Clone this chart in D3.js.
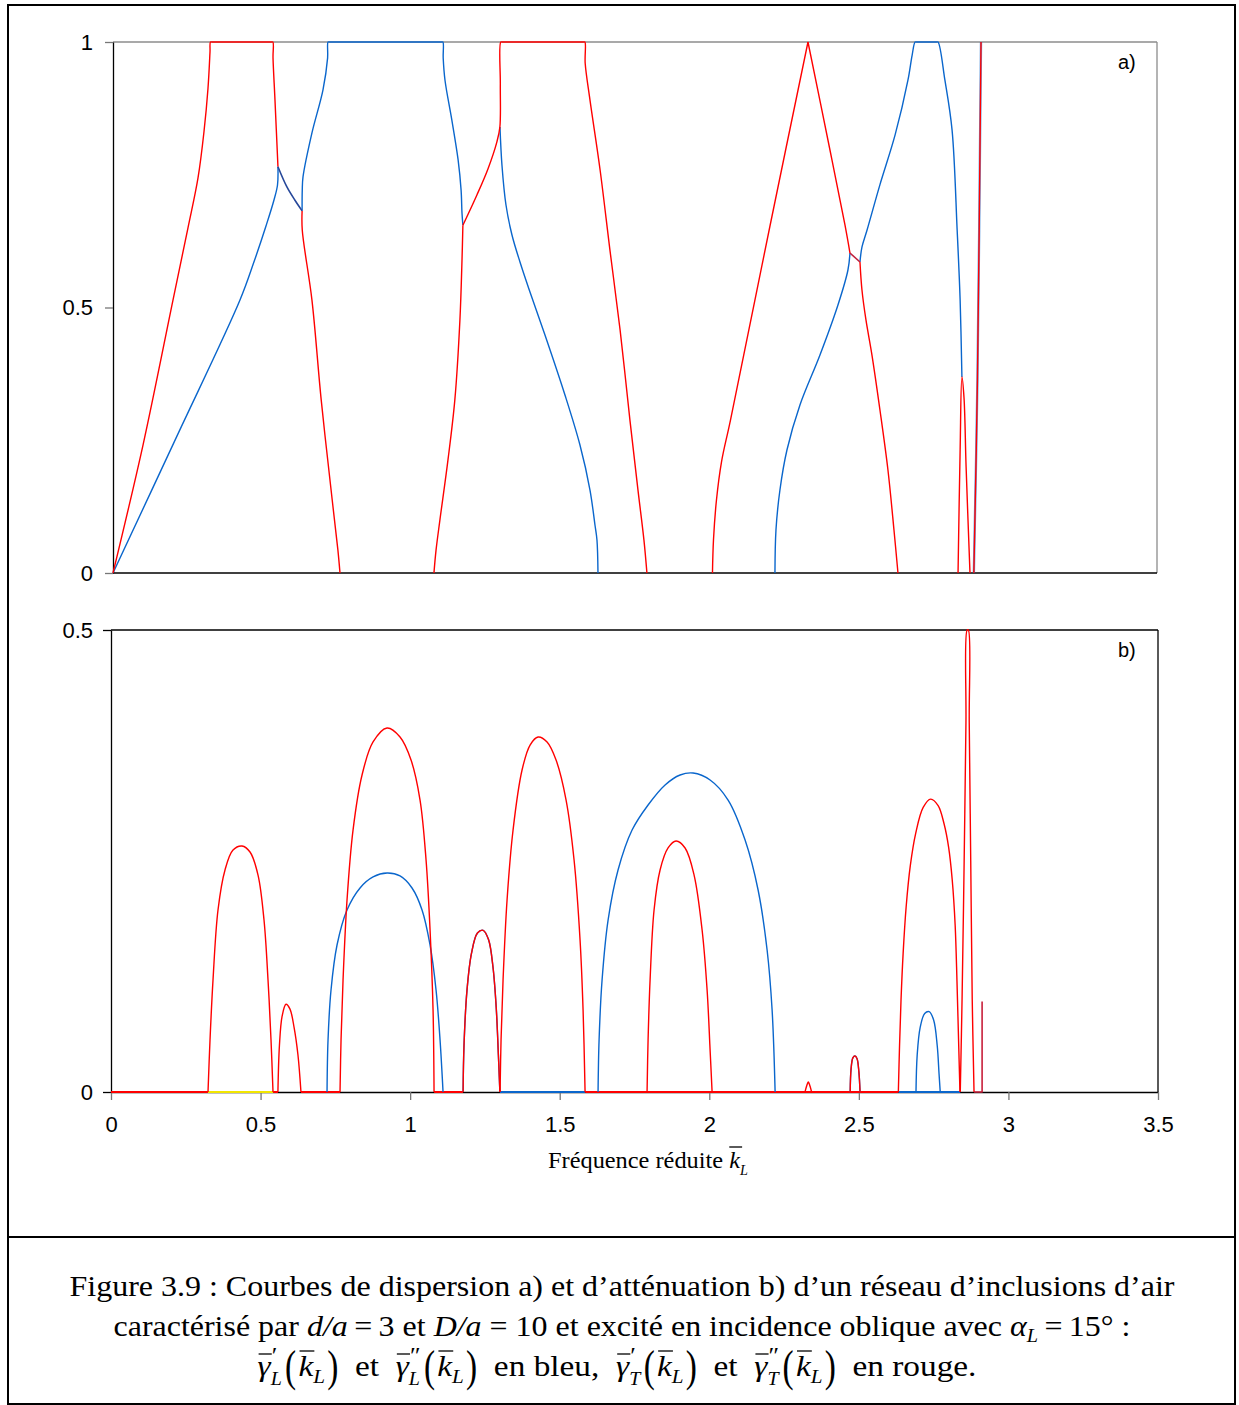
<!DOCTYPE html>
<html><head><meta charset="utf-8">
<script src="https://cdn.jsdelivr.net/npm/d3@7"></script>
<style>body{margin:0;background:#fff;} svg{display:block;}</style>
</head><body>
<script>
// ---------------- DATA ----------------
const xTicks = [0, 0.5, 1, 1.5, 2, 2.5, 3, 3.5];
const xTickLabels = ["0", "0.5", "1", "1.5", "2", "2.5", "3", "3.5"];
const yTicksA = [0, 0.5, 1];
const yTickLabelsA = ["0", "0.5", "1"];
const yTicksB = [0, 0.5];
const yTickLabelsB = ["0", "0.5"];

// a) real parts : T (red) branches
const aT1 = [[0,0],[0.1006,0.241],[0.2011,0.514],[0.2514,0.65],[0.285,0.744],[0.305,0.831],[0.3185,0.913],[0.3252,0.981],[0.3268,1],[0.332,1],[0.531,1],[0.536,1],[0.5365,0.97],[0.543,0.891],[0.553,0.765]];
const aT2 = [[0.634,0.682],[0.6345,0.646],[0.667,0.514],[0.698,0.326],[0.735,0.137],[0.754,0.043],[0.761,0]];
const aT3 = [[1.173,0.655],[1.22,0.712],[1.257,0.761],[1.287,0.812],[1.297,0.84],[1.2985,0.92],[1.3,1],[1.305,1],[1.577,1],[1.582,1],[1.583,0.96],[1.599,0.891],[1.633,0.759],[1.666,0.608],[1.7,0.458],[1.733,0.288],[1.76,0.156],[1.78,0.062],[1.79,0]];
const aT4 = [[1.076,0],[1.083,0.043],[1.096,0.1],[1.123,0.213],[1.146,0.326],[1.163,0.476],[1.17,0.589],[1.173,0.655]];
const aT5 = [[2.0097,0],[2.0131,0.0621],[2.0231,0.1375],[2.0399,0.209],[2.0701,0.2881],[2.2025,0.6535],[2.3299,1]];
const aT6 = [[2.3299,1],[2.4036,0.7966],[2.4539,0.6554],[2.4707,0.6026]];
const aT7 = [[2.5042,0.5857],[2.5109,0.533],[2.5243,0.4765],[2.5444,0.4105],[2.5712,0.307],[2.598,0.194],[2.6182,0.081],[2.6316,0]];
const aT8 = [[2.833,0],[2.84,0.232],[2.846,0.369],[2.853,0.33],[2.86,0.2],[2.873,0]];
const aT9 = [[2.886,0],[2.898,0.363],[2.91,1]];
// a) real parts : L (blue) branches
const aL1 = [[0,0],[0.2112,0.254],[0.4257,0.514],[0.4727,0.586],[0.5129,0.6535],[0.5397,0.7024],[0.5515,0.7307],[0.553,0.765]];
const aL2 = [[0.634,0.682],[0.6345,0.721],[0.637,0.746],[0.667,0.829],[0.704,0.91],[0.7195,0.97],[0.721,1],[0.726,1],[1.101,1],[1.106,1],[1.107,0.97],[1.113,0.928],[1.136,0.853],[1.157,0.778],[1.167,0.721],[1.17,0.678],[1.173,0.655]];
const aL3 = [[1.2973,0.84],[1.304,0.768],[1.3175,0.693],[1.3376,0.6365],[1.3644,0.5857],[1.3979,0.5292],[1.4482,0.4482],[1.5152,0.3352],[1.5655,0.241],[1.5991,0.1563],[1.6158,0.0904],[1.6225,0.0621],[1.6259,0]];
const aL4 = [[2.2192,0],[2.2226,0.081],[2.2359,0.1563],[2.2594,0.2316],[2.303,0.3164],[2.3701,0.4105],[2.4304,0.5047],[2.4639,0.5706],[2.4707,0.6026]];
const aL5 = [[2.5042,0.5857],[2.511,0.614],[2.528,0.646],[2.571,0.731],[2.622,0.825],[2.665,0.928],[2.679,0.975],[2.689,1],[2.694,1],[2.761,1],[2.766,1],[2.789,0.928],[2.813,0.834],[2.83,0.646],[2.84,0.514],[2.846,0.369]];
// a) coupled (mixed) segments
const aM1 = [[0.553,0.765],[0.583,0.727],[0.61,0.702],[0.634,0.682]];
const aM2 = [[2.4707,0.6026],[2.5042,0.5857]];

// b) imaginary parts : T (red)
const bT1 = [[0.3243,0],[0.331,0.0563],[0.341,0.1212],[0.3577,0.197],[0.3811,0.2403],[0.4079,0.2619],[0.438,0.2662],[0.4647,0.2597],[0.4915,0.2348],[0.5115,0.1861],[0.5249,0.1212],[0.5349,0.0563],[0.5416,0]];
const bT2 = [[0.558,0],[0.563,0.05],[0.572,0.082],[0.585,0.095],[0.598,0.09],[0.612,0.07],[0.625,0.04],[0.635,0]];
const bT3 = [[0.7656,0],[0.769,0.0563],[0.7757,0.1212],[0.789,0.2078],[0.8091,0.2835],[0.8392,0.3431],[0.876,0.3788],[0.9228,0.3939],[0.9662,0.3842],[1.003,0.3593],[1.0331,0.316],[1.0532,0.2511],[1.0666,0.1753],[1.0766,0.0887],[1.0799,0]];
const bT4 = [[1.177,0],[1.18,0.05],[1.19,0.11],[1.205,0.15],[1.225,0.172],[1.244,0.175],[1.262,0.165],[1.277,0.135],[1.288,0.09],[1.295,0.04],[1.3,0]];
const bT5 = [[1.3006,0],[1.3039,0.0563],[1.3106,0.1212],[1.324,0.2078],[1.344,0.2835],[1.3741,0.3485],[1.4009,0.3755],[1.4276,0.3842],[1.4577,0.3788],[1.4878,0.3593],[1.5213,0.316],[1.548,0.2511],[1.568,0.1645],[1.5781,0.0887],[1.5848,0]];
const bT6 = [[1.792,0],[1.7954,0.0563],[1.8021,0.1212],[1.8154,0.197],[1.8355,0.2403],[1.8622,0.2641],[1.889,0.2716],[1.9191,0.2641],[1.9492,0.2348],[1.976,0.1753],[1.9927,0.1104],[2.0027,0.0455],[2.0094,0]];
const bT7 = [[2.32,0],[2.327,0.008],[2.331,0.011],[2.335,0.008],[2.342,0]];
const bT8 = [[2.471,0],[2.474,0.025],[2.48,0.037],[2.487,0.039],[2.494,0.036],[2.5,0.022],[2.504,0]];
const bT9 = [[2.632,0],[2.636,0.05],[2.641,0.1],[2.648,0.15],[2.658,0.2],[2.672,0.245],[2.69,0.28],[2.715,0.308],[2.74,0.317],[2.765,0.31],[2.785,0.29],[2.8,0.265],[2.812,0.23],[2.822,0.18],[2.828,0.12],[2.833,0.06],[2.838,0]];
const bT10 = [[2.839,0],[2.845,0.1],[2.852,0.25],[2.858,0.4],[2.862,0.5],[2.866,0.5],[2.869,0.4],[2.874,0.25],[2.879,0.1],[2.885,0]];
const bT11 = [[2.885,0],[2.912,0],[2.912,0.098]];
// b) imaginary parts : L (blue)
const bL1 = [[0.7222,0],[0.7255,0.0563],[0.7355,0.1104],[0.7556,0.1591],[0.789,0.197],[0.8325,0.2208],[0.876,0.2327],[0.9228,0.237],[0.9662,0.2338],[1.0063,0.2208],[1.0398,0.197],[1.0665,0.1591],[1.0866,0.1104],[1.1,0.0563],[1.11,0]];
const bL2 = [[1.177,0],[1.18,0.05],[1.19,0.11],[1.205,0.15],[1.225,0.172],[1.244,0.175],[1.262,0.165],[1.277,0.135],[1.288,0.09],[1.295,0.04],[1.3,0]];
const bL3 = [[1.6282,0],[1.6316,0.0563],[1.6416,0.1212],[1.6617,0.1861],[1.695,0.2403],[1.7419,0.2835],[1.7954,0.3106],[1.8522,0.3323],[1.9024,0.3431],[1.9458,0.3452],[2.0027,0.3377],[2.0629,0.316],[2.1197,0.2727],[2.1632,0.2186],[2.1933,0.1537],[2.21,0.0887],[2.2201,0]];
const bL4 = [[2.471,0],[2.474,0.025],[2.48,0.037],[2.487,0.039],[2.494,0.036],[2.5,0.022],[2.504,0]];
const bL5 = [[2.691,0],[2.695,0.04],[2.705,0.07],[2.72,0.085],[2.735,0.087],[2.75,0.078],[2.762,0.05],[2.768,0.02],[2.772,0]];
// b) zero-valued stretches of each series
const bZeroT = [[0,0.324],[0.542,0.558],[0.635,0.766],[1.08,1.177],[1.585,2.632]];
const bZeroL = [[1.3,1.585],[2.632,2.839]];
const bZeroY = [[0.324,0.542]];

// ---------------- DRAWING ----------------
const W = 1239, H = 1405;
const RED = "#ff0000", BLUE = "#0a66cc", YELLOW = "#f2e600";
const sans = "'Liberation Sans', Arial, sans-serif";
const serif = "'Liberation Serif', 'Times New Roman', serif";

const svg = d3.select("body").append("svg").attr("width", W).attr("height", H);

// outer frame
svg.append("rect").attr("x", 8).attr("y", 5).attr("width", 1227).attr("height", 1399)
  .attr("fill", "none").attr("stroke", "#000").attr("stroke-width", 2);
svg.append("line").attr("x1", 8).attr("x2", 1235).attr("y1", 1237).attr("y2", 1237)
  .attr("stroke", "#000").attr("stroke-width", 2);

// scales
const xA = d3.scaleLinear().domain([0, 3.5]).range([113, 1157]);
const yA = d3.scaleLinear().domain([0, 1]).range([573, 42]);
const xB = d3.scaleLinear().domain([0, 3.5]).range([111, 1158]);
const yB = d3.scaleLinear().domain([0, 0.5]).range([1092, 630]);

const defs = svg.append("defs");
defs.append("clipPath").attr("id", "clipA").append("rect")
  .attr("x", 110).attr("y", 40).attr("width", 1050).attr("height", 535);
defs.append("clipPath").attr("id", "clipB").append("rect")
  .attr("x", 108).attr("y", 629).attr("width", 1052).attr("height", 465);

function styleAxis(g, tickColor) {
  g.select(".domain").attr("stroke", "#000").attr("stroke-width", 1.3);
  g.selectAll(".tick line").attr("stroke", tickColor).attr("stroke-width", 1.3);
  g.selectAll(".tick text").attr("font-family", sans).attr("font-size", 22).attr("fill", "#000");
}

// ----- panel a frame
svg.append("line").attr("x1", xA(0)).attr("x2", xA(3.5)).attr("y1", yA(1)).attr("y2", yA(1))
  .attr("stroke", "#8c8c8c").attr("stroke-width", 1.3);
svg.append("line").attr("x1", xA(3.5)).attr("x2", xA(3.5)).attr("y1", yA(1)).attr("y2", yA(0))
  .attr("stroke", "#8c8c8c").attr("stroke-width", 1.3);
svg.append("line").attr("x1", xA(0)).attr("x2", xA(3.5)).attr("y1", yA(0)).attr("y2", yA(0))
  .attr("stroke", "#000").attr("stroke-width", 1.5);
const axAy = svg.append("g").attr("transform", `translate(${xA(0)},0)`)
  .call(d3.axisLeft(yA).tickValues(yTicksA).tickFormat((d, i) => yTickLabelsA[i])
    .tickSize(8).tickSizeOuter(0).tickPadding(12));
styleAxis(axAy, "#777");

// ----- panel b frame
svg.append("line").attr("x1", xB(0)).attr("x2", xB(3.5)).attr("y1", yB(0.5)).attr("y2", yB(0.5))
  .attr("stroke", "#000").attr("stroke-width", 1.3);
svg.append("line").attr("x1", xB(3.5)).attr("x2", xB(3.5)).attr("y1", yB(0.5)).attr("y2", yB(0))
  .attr("stroke", "#000").attr("stroke-width", 1.3);
const axBy = svg.append("g").attr("transform", `translate(${xB(0)},0)`)
  .call(d3.axisLeft(yB).tickValues(yTicksB).tickFormat((d, i) => yTickLabelsB[i])
    .tickSize(8).tickSizeOuter(0).tickPadding(10));
styleAxis(axBy, "#000");
const axBx = svg.append("g").attr("transform", `translate(0,${yB(0)})`)
  .call(d3.axisBottom(xB).tickValues(xTicks).tickFormat((d, i) => xTickLabels[i])
    .tickSize(8).tickSizeOuter(0).tickPadding(16));
styleAxis(axBx, "#777");

// ----- curves
const smooth = d3.curveCatmullRom.alpha(0.5);
const lineA = d3.line().x(d => xA(d[0])).y(d => yA(d[1])).curve(smooth);
const lineB = d3.line().x(d => xB(d[0])).y(d => yB(d[1])).curve(smooth);

const gA = svg.append("g").attr("clip-path", "url(#clipA)")
  .attr("fill", "none").attr("stroke-width", 1.4).attr("stroke-linejoin", "round");
[aL1, aL2, aL3, aL4, aL5].forEach(s => gA.append("path").attr("d", lineA(s)).attr("stroke", BLUE));
gA.append("path").attr("d", lineA(aT9)).attr("stroke", BLUE).attr("stroke-width", 2.4).attr("opacity", 0.6);
[aT1, aT2, aT3, aT4, aT5, aT6, aT7, aT8, aT9].forEach(s => gA.append("path").attr("d", lineA(s)).attr("stroke", RED));
gA.append("path").attr("d", lineA(aM1)).attr("stroke", "#27489a").attr("stroke-width", 1.6);
gA.append("path").attr("d", lineA(aM2)).attr("stroke", "#c0203c").attr("stroke-width", 1.6);

const gB = svg.append("g").attr("clip-path", "url(#clipB)")
  .attr("fill", "none").attr("stroke-width", 1.4).attr("stroke-linejoin", "round");
bZeroL.forEach(r => gB.append("path").attr("d", lineB(r.map(k => [k, 0]))).attr("stroke", BLUE).attr("stroke-width", 2));
bZeroT.forEach(r => gB.append("path").attr("d", lineB(r.map(k => [k, 0]))).attr("stroke", RED).attr("stroke-width", 2));
bZeroY.forEach(r => gB.append("path").attr("d", lineB(r.map(k => [k, 0]))).attr("stroke", YELLOW).attr("stroke-width", 2));
[bL1, bL2, bL3, bL4, bL5].forEach(s => gB.append("path").attr("d", lineB(s)).attr("stroke", BLUE));
[bT1, bT2, bT3, bT4, bT5, bT6, bT7, bT8, bT9, bT10].forEach(s => gB.append("path").attr("d", lineB(s)).attr("stroke", RED));
gB.append("path").attr("d", d3.line().x(d => xB(d[0])).y(d => yB(d[1]))(bT11)).attr("stroke", "#c8203c").attr("stroke-width", 1.6);

// panel labels
svg.append("text").attr("x", 1118).attr("y", 69).attr("font-family", sans).attr("font-size", 20).text("a)");
svg.append("text").attr("x", 1118).attr("y", 657).attr("font-family", sans).attr("font-size", 20).text("b)");

// ----- math layout helper
function addText(parent, str, x, y, size, italic) {
  return parent.append("text").attr("x", x).attr("y", y)
    .attr("font-family", serif).attr("font-size", size)
    .attr("font-style", italic ? "italic" : "normal")
    .style("white-space", "pre").text(str);
}
function mathLine(parent, pieces, cx, base, baseSize, fitWidth) {
  const g = parent.append("g");
  const inner = g.append("g");
  let x = 0;
  pieces.forEach(p => {
    const size = p.size || baseSize;
    let t;
    if (p.sy) {
      t = addText(inner, p.t, 0, 0, size, p.it)
        .attr("transform", `translate(${x},${base + (p.dy || 0)}) scale(1,${p.sy})`);
    } else {
      t = addText(inner, p.t, x, base + (p.dy || 0), size, p.it);
    }
    const w = t.node().getComputedTextLength();
    let extra = 0;
    if (p.sup) {
      const s = addText(inner, p.sup, x + w + (p.supDx || 0), base + p.supDy, p.supSize, false);
      extra = Math.max(extra, s.node().getComputedTextLength() + (p.supDx || 0));
    }
    if (p.sub) {
      const s = addText(inner, p.sub, x + w, base + p.subDy, p.subSize, true);
      extra = Math.max(extra, s.node().getComputedTextLength());
    }
    if (p.bar) {
      inner.append("line").attr("x1", x + p.bar[0]).attr("x2", x + w + p.bar[1])
        .attr("y1", base - p.bar[2]).attr("y2", base - p.bar[2])
        .attr("stroke", "#000").attr("stroke-width", 1.3);
    }
    x += w + extra + (p.sp || 0);
  });
  const sx = fitWidth ? fitWidth / x : 1;
  inner.attr("transform", `scale(${sx},1)`);
  g.attr("transform", `translate(${cx - x * sx / 2},0)`);
  return g;
}

// axis title
mathLine(svg, [
  { t: "Fréquence réduite " },
  { t: "k", it: true, bar: [0, 2, 21], sub: "L", subSize: 14, subDy: 7 }
], 648, 1168, 24, 200);

// ----- caption
const cap = svg.append("g").attr("font-family", serif).attr("fill", "#000");
cap.append("text").attr("x", 622).attr("y", 1296).attr("text-anchor", "middle")
  .attr("font-size", 30).attr("textLength", 1105).attr("lengthAdjust", "spacingAndGlyphs")
  .text("Figure 3.9 : Courbes de dispersion a) et d’atténuation b) d’un réseau d’inclusions d’air");
const l2 = cap.append("text").attr("x", 622).attr("y", 1336).attr("text-anchor", "middle")
  .attr("font-size", 30).attr("textLength", 1017).attr("lengthAdjust", "spacingAndGlyphs");
l2.append("tspan").text("caractérisé par ");
l2.append("tspan").attr("font-style", "italic").text("d/a");
l2.append("tspan").text("\u2009=\u20093 et ");
l2.append("tspan").attr("font-style", "italic").text("D/a");
l2.append("tspan").text(" = 10 et excité en incidence oblique avec ");
l2.append("tspan").attr("font-style", "italic").text("α");
l2.append("tspan").attr("font-style", "italic").attr("font-size", 19).attr("dy", 6).text("L");
l2.append("tspan").attr("dy", -6).text("\u2009=\u200915° :");

function gammaTerm(sub, primes) {
  return [
    { t: "γ", it: true, bar: [1, 1, 22], sup: primes, supSize: 23, supDy: -13, supDx: 1, sub: sub, subSize: 18, subDy: 9, sp: 3 },
    { t: "(", sy: 1.5, dy: 5, sp: 2 },
    { t: "k", it: true, bar: [1, 1, 25], sub: "L", subSize: 19, subDy: 7, sp: 2 },
    { t: ")", sy: 1.5, dy: 5 }
  ];
}
mathLine(cap, [].concat(
  gammaTerm("L", "′"), [{ t: "  et  " }],
  gammaTerm("L", "″"), [{ t: "  en bleu,  " }],
  gammaTerm("T", "′"), [{ t: "  et  " }],
  gammaTerm("T", "″"), [{ t: "  en rouge." }]
), 617, 1376, 30, 719);
</script>
</body></html>
